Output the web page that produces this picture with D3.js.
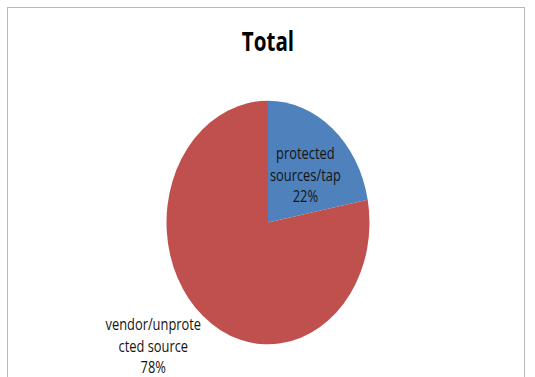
<!DOCTYPE html>
<html>
<head>
<meta charset="utf-8">
<script src="https://cdn.jsdelivr.net/npm/d3@7"></script>
<style>
  html, body { margin: 0; padding: 0; background: #fff; }
  svg { display: block; }
</style>
</head>
<body>
<svg id="chart" width="535" height="377"></svg>
<script>
// Share of supply by source type
const categories = ["protected sources/tap", "vendor/unprotected source"];
const labelLines = [["protected", "sources/tap"], ["vendor/unprote", "cted source"]];
const values = [22, 78];
const colors = ["#4F81BD", "#C0504D"];
const title = "Total";

const svg = d3.select("#chart");
const font = "'Open Sans', 'Liberation Sans', sans-serif";

// chart area frame
svg.append("rect")
  .attr("x", 7.5).attr("y", 7.5)
  .attr("width", 517).attr("height", 380)
  .attr("fill", "#fff")
  .attr("stroke", "#b8b8b8").attr("stroke-width", 1);

// title
svg.append("text")
  .attr("text-anchor", "middle")
  .attr("font-family", font)
  .attr("font-weight", "bold")
  .attr("font-size", 21)
  .attr("transform", "translate(268,51) scale(0.98,1.25)")
  .attr("fill", "#000")
  .text(title);

const cx = 268, cy = 222.5, rx = 101.5, sy = 1.2;

const pie = d3.pie().sort(null).value(d => d);
const arcs = pie(values);
const arc = d3.arc().innerRadius(0).outerRadius(rx);

const g = svg.append("g")
  .attr("transform", `translate(${cx},${cy}) scale(1,${sy})`);

g.selectAll("path")
  .data(arcs)
  .join("path")
  .attr("d", arc)
  .attr("fill", (d, i) => colors[i]);

// label placement: radius factor along each slice's mid-angle, plus horizontal shift
const labelLayout = [{ r: 0.5, dx: 5 }, { r: 1.325, dx: -29 }];

const labels = svg.append("g")
  .attr("font-family", font)
  .attr("font-size", 14)
  .attr("fill", "#141414")
  .attr("text-anchor", "middle");

const tx = 0.92, ty = 1.15, lh = 21.5;
arcs.forEach((a, i) => {
  const mid = (a.startAngle + a.endAngle) / 2;
  const rr = rx * labelLayout[i].r;
  const x = cx + Math.sin(mid) * rr + labelLayout[i].dx;
  const y = cy - Math.cos(mid) * rr * sy;
  const lines = labelLines[i].concat([values[i] + "%"]);
  const t = labels.append("text")
    .attr("transform", `translate(${x},${y}) scale(${tx},${ty})`);
  lines.forEach((ln, k) => {
    t.append("tspan")
      .attr("x", 0)
      .attr("y", ((k - (lines.length - 1) / 2) * lh + 5) / ty)
      .text(ln);
  });
});
</script>
</body>
</html>
